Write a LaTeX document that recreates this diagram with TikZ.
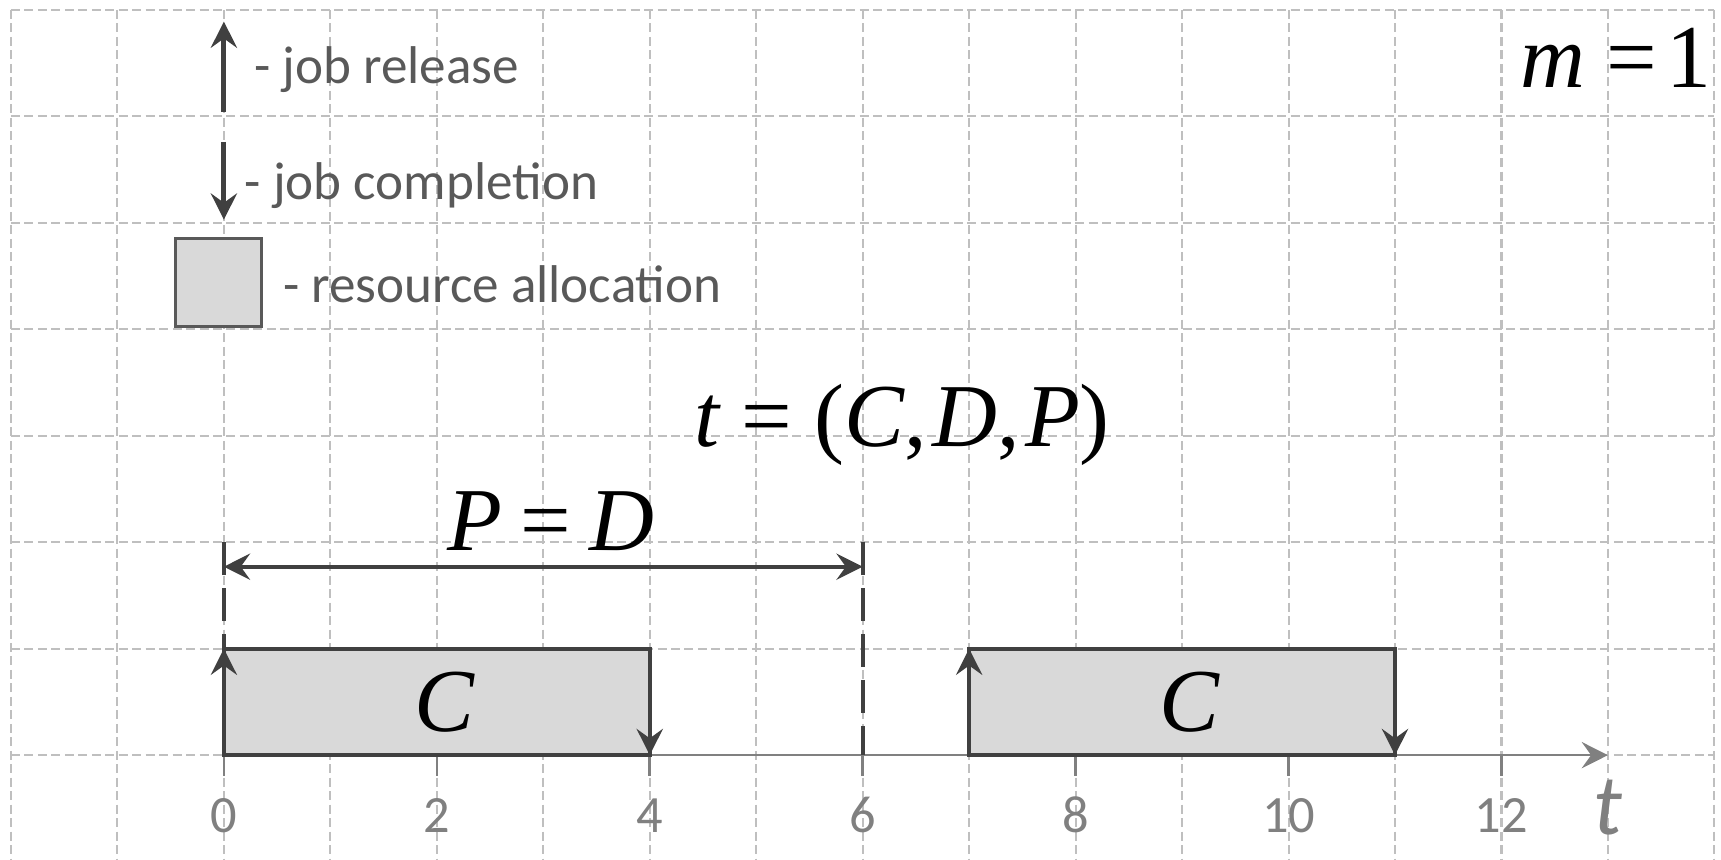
\documentclass[tikz,border=0pt]{standalone}
\usepackage{fontspec}
\setmainfont{Liberation Serif}
\setsansfont{Carlito}
\usetikzlibrary{arrows.meta}
\definecolor{gridc}{HTML}{BFBFBF}
\definecolor{darkc}{HTML}{404040}
\definecolor{textc}{HTML}{595959}
\definecolor{axisc}{HTML}{808080}
\definecolor{fillc}{HTML}{D9D9D9}
\begin{document}
\begin{tikzpicture}[x=1cm,y=1cm,
  gridline/.style={gridc, line width=0.55pt, dash pattern=on 2.4pt off 1.2pt},
  arr/.style={-{Stealth[length=7pt,width=7pt,inset=2.5pt]}, darkc, line width=1pt},
  dblarr/.style={{Stealth[length=7pt,width=7pt,inset=2.5pt]}-{Stealth[length=7pt,width=7pt,inset=2.5pt]}, darkc, line width=1pt},
  legarr/.style={arr, line width=1.3pt},
  taskbox/.style={fill=fillc, draw=darkc, line width=1pt, minimum width=4cm, minimum height=1cm, inner sep=0pt, outer sep=0pt},
  legtext/.style={textc, font=\sffamily\fontsize{14.2}{17}\selectfont, anchor=base west, inner sep=0pt},
  mathtext/.style={font=\rmfamily\fontsize{24}{28}\selectfont, inner sep=0pt},
  ticklabel/.style={axisc, font=\sffamily\fontsize{14}{16}\selectfont, anchor=base, inner sep=0pt},
  deadline/.style={darkc, line width=1.1pt, dash pattern=on 8.8pt off 3.5pt}]

\useasboundingbox (-2.103,-0.979) rectangle (14.062,7.093);

% grid
\foreach \x in {-2,...,14} \draw[gridline] (\x,7) -- (\x,-0.979);
\foreach \y in {0,...,7} \draw[gridline] (-2,\y) -- (14,\y);

% axis
\coordinate (axstart) at (0,0);
\coordinate (axend) at (13,0);
\draw[axisc, line width=0.7pt, -{Stealth[length=7pt,width=7pt,inset=2.5pt]}] (axstart) -- (axend);
\foreach \x in {0,2,...,12} {
  \draw[axisc, line width=0.7pt] (\x,0) -- (\x,-0.2);
  \node[ticklabel] (tl\x) at (\x,-0.73) {\x};
}
\node[axisc, font=\sffamily\itshape\fontsize{23}{26}\selectfont, anchor=base, inner sep=0pt] (tlab) at (13,-0.75) {t};

% jobs
\node[taskbox, anchor=south west] (job1) at (0,0) {};
\node[mathtext, xshift=0.07cm] (c1) at (job1.center) {\itshape C};
\draw[arr] (job1.south west) -- (job1.north west);
\draw[arr] (job1.north east) -- (job1.south east);

\node[taskbox, anchor=south west] (job2) at (7,0) {};
\node[mathtext, xshift=0.07cm] (c2) at (job2.center) {\itshape C};
\draw[arr] (job2.south west) -- (job2.north west);
\draw[arr] (job2.north east) -- (job2.south east);

% deadline / period
\coordinate (d0top) at (0,2);
\draw[deadline] (d0top) -- (job1.north west);
\coordinate (d6top) at (6,2);
\coordinate (d6bot) at (6,0);
\draw[deadline] (d6top) -- (d6bot);
\coordinate (pl) at (0,1.77);
\coordinate (pr) at (6,1.77);
\draw[dblarr] (pl) -- (pr);

% math labels
\node[mathtext, anchor=base] (pd) at (3.07,1.92) {{\itshape P}\kern0.2em=\kern0.2em{\itshape D}};
\node[mathtext, anchor=base] (tuple) at (6.37,2.90) {{\itshape t} = ({\itshape C},\kern0.06em{\itshape D},\kern0.06em{\itshape P})};
\node[mathtext, anchor=base west] (m1) at (12.17,6.27) {{\itshape m}\kern0.24em=\kern0.1em1};

% legend
\coordinate (rel0) at (0,6.04);
\coordinate (rel1) at (0,6.89);
\draw[legarr] (rel0) -- (rel1);
\coordinate (cmp0) at (0,5.76);
\coordinate (cmp1) at (0,5.03);
\draw[legarr] (cmp0) -- (cmp1);
\node[draw=textc, fill=fillc, line width=0.8pt, minimum width=0.8cm, minimum height=0.82cm, inner sep=0pt] (legbox) at (-0.05,4.44) {};
\node[legtext] (lrel) at (0.28,6.31) {- job release};
\node[legtext] (lcmp) at (0.19,5.22) {- job completion};
\node[legtext] (lres) at (0.55,4.25) {- resource allocation};
\end{tikzpicture}
\end{document}
